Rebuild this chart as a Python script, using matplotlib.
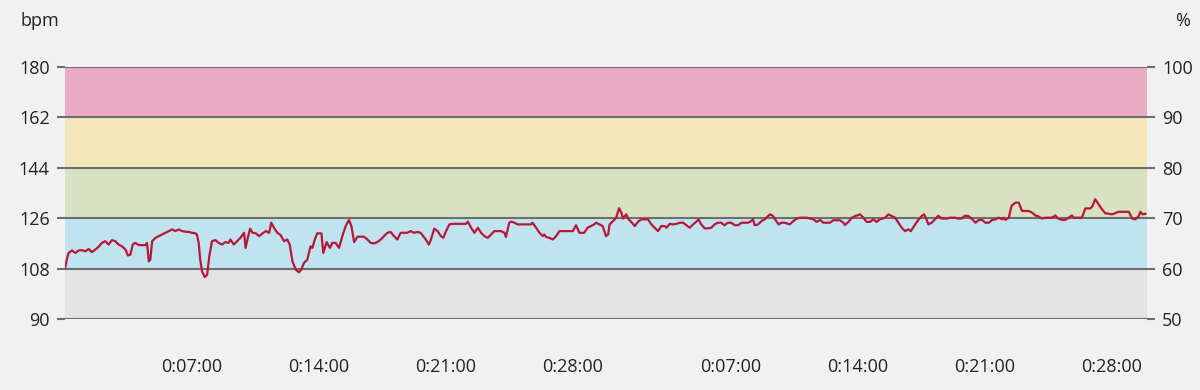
import numpy as np
import matplotlib
matplotlib.use("Agg")
import matplotlib.pyplot as plt

plt.rcParams['font.family'] = ['Open Sans', 'DejaVu Sans']

# Heart rate samples: elapsed seconds across both sessions, bpm
time_s = [0, 7, 12, 23, 34, 45, 56, 67, 78, 89, 100, 111, 122, 133, 144, 155, 166, 177, 188, 200,
          208, 216, 224, 232, 244, 255, 266, 271, 277, 282, 288, 299, 310, 321, 332, 343, 354, 365,
          376, 387, 398, 409, 420, 431, 436, 442, 447, 453, 462, 470, 477, 486, 497, 508, 519, 530,
          541, 547, 558, 569, 580,
          592, 597, 603, 612, 620, 631, 642, 653, 664, 675, 682, 691, 702, 713, 724, 735, 743, 752,
          763, 774, 781, 790, 801, 812, 818, 826, 834, 848, 854, 865, 876, 884, 895, 906, 917, 928,
          939, 947, 956, 967, 978, 989, 1000, 1011, 1022, 1033, 1044, 1055, 1066, 1077, 1088, 1099,
          1110, 1132, 1143, 1154, 1165, 1176, 1193,
          1203, 1210, 1221, 1232, 1243, 1251, 1260, 1271, 1282, 1304, 1326, 1332, 1343, 1354, 1365,
          1376, 1387, 1398, 1409, 1420, 1442, 1453, 1458, 1469, 1475, 1486, 1497, 1519, 1541, 1546,
          1558, 1569, 1580, 1585, 1591, 1602, 1613, 1624, 1635, 1657, 1679, 1690, 1701, 1717, 1728,
          1739, 1750, 1756, 1767, 1778, 1789,
          1796, 1801, 1812, 1823, 1832, 1840, 1845, 1856, 1864, 1875, 1884, 1895, 1906, 1928, 1939,
          1950, 1961, 1972, 1983, 1989, 2000, 2011, 2022, 2033, 2044, 2055, 2066, 2077, 2088, 2095,
          2104, 2115, 2126, 2137, 2148, 2159, 2170, 2181, 2192, 2203, 2215, 2226, 2237, 2259, 2270,
          2275, 2281, 2292, 2303, 2314, 2325, 2332, 2341, 2352, 2360, 2369, 2380, 2396,
          2409, 2420, 2431, 2453, 2464, 2475, 2486, 2497, 2508, 2530, 2541, 2563, 2574, 2579, 2591,
          2602, 2613, 2620, 2629, 2640, 2651, 2662, 2673, 2684, 2695, 2712, 2723, 2734, 2745, 2756,
          2767, 2778, 2789, 2797, 2808, 2819, 2833, 2841, 2849, 2855, 2866, 2877, 2888, 2899, 2916,
          2927, 2943, 2954, 2965, 2976, 2987, 2998,
          3011, 3022, 3033, 3044, 3055, 3066, 3077, 3088, 3099, 3104, 3110, 3121, 3130, 3143, 3154,
          3165, 3187, 3198, 3209, 3220, 3231, 3242, 3264, 3275, 3284, 3297, 3308, 3319, 3330, 3336,
          3363, 3374, 3391, 3398, 3407, 3418, 3429, 3440, 3462, 3473, 3484, 3518, 3529, 3540, 3551,
          3556, 3564, 3573]
hr_bpm = [108.2, 111.8, 113.6, 114.5, 113.6, 114.5, 114.6, 114.2, 115.0, 113.9, 114.8, 115.8, 117.2,
          117.8, 116.6, 118.2, 117.8, 116.6, 116.0, 114.8, 112.7, 113.0, 116.6, 117.2, 116.4, 116.4,
          116.4, 117.2, 110.6, 111.2, 117.8, 119.0, 119.6, 120.2, 120.8, 121.4, 122.0, 121.4, 122.0,
          121.4, 121.2, 121.1, 120.8, 120.6, 120.2, 117.2, 111.2, 107.0, 105.0, 105.8, 112.4, 117.8,
          118.2, 117.2, 116.6, 117.5, 117.2, 118.4, 116.6, 117.8, 119.0,
          120.8, 115.4, 118.4, 122.3, 120.8, 120.6, 119.6, 120.6, 121.4, 120.8, 124.4, 122.6, 120.8,
          120.0, 117.8, 118.4, 116.6, 110.6, 107.6, 106.7, 107.6, 110.0, 111.2, 116.0, 115.4, 118.4,
          120.6, 120.6, 113.6, 117.5, 115.4, 117.2, 117.2, 115.4, 119.6, 123.2, 125.4, 123.2, 117.5,
          119.4, 119.4, 119.4, 118.4, 117.2, 117.0, 117.5, 118.4, 119.6, 120.8, 121.1, 119.6, 118.4,
          120.8, 120.8, 121.4, 120.8, 121.1, 120.8, 118.4,
          116.6, 118.4, 122.3, 121.4, 119.6, 119.0, 121.4, 123.8, 124.0, 124.0, 124.0, 124.8, 122.6,
          120.8, 122.6, 120.8, 119.6, 119.0, 120.2, 121.4, 121.4, 120.8, 119.3, 124.4, 124.8, 124.4,
          123.8, 123.8, 123.8, 124.4, 122.6, 120.8, 119.6, 120.2, 119.3, 119.0, 118.4, 119.6, 121.4,
          121.4, 121.4, 123.5, 120.8, 120.8, 122.6, 123.2, 123.8, 124.4, 123.8, 123.2, 119.6,
          120.2, 123.8, 125.0, 126.2, 129.6, 128.0, 125.9, 127.4, 125.6, 124.4, 123.2, 124.8, 125.6,
          125.6, 123.8, 122.6, 121.4, 123.2, 123.2, 122.6, 124.0, 123.8, 124.0, 124.4, 124.4, 123.5,
          122.6, 123.8, 124.8, 125.6, 123.8, 122.4, 122.4, 122.6, 123.8, 124.4, 124.4, 123.5, 124.4,
          124.4, 123.5, 123.5, 124.4, 124.4, 125.0, 125.6, 123.5, 123.8, 125.0, 125.6, 126.8, 127.4,
          126.8, 125.0, 123.8, 124.4, 124.4, 123.8,
          125.0, 125.9, 126.2, 126.2, 125.9, 125.6, 124.7, 125.4, 124.4, 124.4, 125.3, 125.3, 124.4,
          123.6, 124.7, 126.2, 126.8, 127.0, 127.4, 126.2, 124.7, 124.7, 125.6, 124.7, 125.6, 126.2,
          127.4, 126.8, 126.2, 124.4, 122.6, 121.4, 122.0, 121.4, 123.2, 125.0, 126.8, 127.4, 125.6,
          123.8, 124.4, 125.6, 126.9, 125.9, 125.9, 126.2, 126.2, 125.9, 125.9, 126.9, 126.8, 125.9,
          124.4, 125.4, 125.4, 124.4, 124.4, 125.4, 125.6, 126.2, 125.6, 126.2, 125.4, 126.2, 130.4,
          131.6, 131.6, 128.6, 128.6, 128.0, 127.0, 126.6, 125.9, 126.2, 126.2, 127.0, 125.9, 125.4,
          125.4, 126.2, 127.0, 126.2, 126.2, 129.5, 129.5, 130.4, 132.8, 131.0, 129.2, 127.8, 127.4,
          127.8, 128.3, 128.3, 125.9, 125.6, 126.8, 128.3, 127.4, 127.6]

# Zones (bpm bounds) and colours
zone_bounds = [90, 108, 126, 144, 162, 180]
zone_colors = ['#e3e3e3', '#bfe3ef', '#d8e1c1', '#f3e6b9', '#ebabc4']
pct_ticks = [50, 60, 70, 80, 90, 100]

# Two sessions shown back to back; second one starts here (seconds)
session2_start = 1782
x_end = 3578
tick_minutes = [7, 14, 21, 28]
tick_labels = ['0:07:00', '0:14:00', '0:21:00', '0:28:00']

fig = plt.figure(figsize=(12, 3.9), dpi=100, facecolor='#f1f1f1')
ax = fig.add_axes([0.0542, 0.182, 0.9016, 0.646])
ax.set_facecolor('#f1f1f1')

for lo, hi, c in zip(zone_bounds[:-1], zone_bounds[1:], zone_colors):
    ax.axhspan(lo, hi, color=c, lw=0, zorder=0)

ax.plot(time_s, hr_bpm, color='#b8173a', lw=1.6, zorder=3)

ax.set_xlim(0, x_end)
ax.set_ylim(zone_bounds[0], zone_bounds[-1])
ax.set_yticks(zone_bounds)
ax.yaxis.grid(True, color='#6e6e6e', lw=1.5, zorder=2)
ax.set_axisbelow(False)

xt = [m * 60 for m in tick_minutes] + [session2_start + m * 60 for m in tick_minutes]
ax.set_xticks(xt)
ax.set_xticklabels(tick_labels * 2)

for s in ax.spines.values():
    s.set_visible(False)

ax.tick_params(axis='y', length=6, width=1.5, color='#6e6e6e', pad=5,
               labelsize=13, labelcolor='#222222')
ax.tick_params(axis='x', length=0, pad=28, labelsize=13, labelcolor='#222222')

ax2 = ax.twinx()
ax2.set_ylim(pct_ticks[0], pct_ticks[-1])
ax2.set_yticks(pct_ticks)
for s in ax2.spines.values():
    s.set_visible(False)
ax2.tick_params(axis='y', length=6, width=1.5, color='#6e6e6e', pad=5,
                labelsize=13, labelcolor='#222222')

fig.text(0.017, 0.945, 'bpm', fontsize=13, color='#222222', va='center', ha='left')
fig.text(0.992, 0.945, '%', fontsize=13, color='#222222', va='center', ha='right')

fig.savefig('out.png', dpi=100, facecolor=fig.get_facecolor())
